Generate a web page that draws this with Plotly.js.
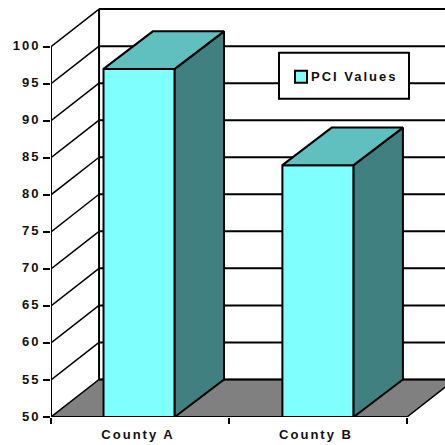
<!DOCTYPE html>
<html>
<head>
<meta charset="utf-8">
<script src="https://cdn.plot.ly/plotly-3.0.1.min.js"></script>
<style>
  html, body { margin: 0; padding: 0; background: #fff; }
  #chart { width: 445px; height: 445px; }
  /* Wide tracking on every chart label */
  #chart text { letter-spacing: 2px; }
</style>
</head>
<body>
<div id="chart"></div>
<script>
const categories = ['County A', 'County B'];
const pciValues = [97, 84];
const seriesName = 'PCI Values';
const yTicks = [50, 55, 60, 65, 70, 75, 80, 85, 90, 95, 100];
const xBoundaries = [0, 1, 2];

// Oblique depth of the box, in axis units
const depthX = 0.27;
const barDepthX = 0.277;
const depthY = 5.07;
const barWidth = 0.4;
const barCentres = [0.495, 1.5];

const yMin = 50, yMax = 106.3, xMax = 394 / 178;
const black = '#000';

const lineShape = (x0, y0, x1, y1, width) => ({
  type: 'line', layer: 'below', xref: 'x', yref: 'y',
  x0, y0, x1, y1, line: { color: black, width }
});

const backRight = 2 + depthX;
const floorPath =
  `M 0 ${yMin} L 2 ${yMin} L ${backRight} ${yMin + depthY} L ${depthX} ${yMin + depthY} Z`;

// Walls and floor sit below the bars
const shapes = [
  { type: 'path', layer: 'below', xref: 'x', yref: 'y', path: floorPath,
    fillcolor: '#808080', line: { color: black, width: 1.5 } },
  lineShape(0, yMin, 0, 100, 2),
  lineShape(depthX, yMin + depthY, depthX, 100 + depthY, 2)
];
yTicks.forEach(t => {
  shapes.push(lineShape(depthX, t + depthY, backRight, t + depthY, 2));
  if (t > yMin) shapes.push(lineShape(0, t, depthX, t + depthY, 1.5));
});

// Legend box, expressed in axis units of the plot
const pxX = p => (p - 51) / 178;
const pxY = p => 50 + (417 - p) / 7.4;
shapes.push(
  { type: 'rect', layer: 'above', xref: 'x', yref: 'y',
    x0: pxX(279), x1: pxX(409), y0: pxY(99), y1: pxY(53),
    fillcolor: '#fff', line: { color: black, width: 2 } },
  { type: 'rect', layer: 'above', xref: 'x', yref: 'y',
    x0: pxX(295), x1: pxX(307), y0: pxY(83), y1: pxY(71),
    fillcolor: '#80FFFF', line: { color: black, width: 2 } }
);

// Front faces are true bars; top and side faces follow the same values
const traces = [{
  type: 'bar', x: barCentres, y: pciValues, width: barWidth, name: seriesName,
  marker: { color: '#80FFFF', line: { color: black, width: 2 } },
  hoverinfo: 'skip', showlegend: false
}];

const face = (xs, ys, fill) => ({
  type: 'scatter', mode: 'lines', x: xs, y: ys, fill: 'toself', fillcolor: fill,
  line: { color: black, width: 2, shape: 'linear' }, cliponaxis: false,
  hoverinfo: 'skip', showlegend: false
});

pciValues.forEach((v, i) => {
  const l = barCentres[i] - barWidth / 2;
  const r = barCentres[i] + barWidth / 2;
  traces.push(face(
    [r, r + barDepthX, r + barDepthX, r, r],
    [yMin, yMin + depthY, v + depthY, v, yMin], '#408080'));
  traces.push(face(
    [l, r, r + barDepthX, l + barDepthX, l],
    [v, v, v + depthY, v + depthY, v], '#60C0C0'));
});

// Front base line over the bar bottoms
traces.push({
  type: 'scatter', mode: 'lines', x: [0, 2], y: [yMin, yMin],
  line: { color: black, width: 2 }, cliponaxis: false,
  hoverinfo: 'skip', showlegend: false
});

const labelFont = { family: 'Liberation Sans, Arial, sans-serif', size: 13, color: '#111', weight: 'bold' };

const layout = {
  width: 445, height: 445,
  margin: { l: 51, r: 0, t: 0, b: 28, pad: 0 },
  paper_bgcolor: '#fff', plot_bgcolor: '#fff',
  showlegend: false,
  xaxis: {
    range: [0, xMax], showgrid: false, zeroline: false, showline: false,
    tickmode: 'array', tickvals: [0.5, 1.5], ticktext: categories,
    ticks: '', tickfont: labelFont, tickangle: 0, ticklabelshift: -2, ticklabelstandoff: 8,
    minor: { tickmode: 'array', tickvals: xBoundaries, ticks: 'outside', ticklen: 6, tickwidth: 2, tickcolor: black, showgrid: false }
  },
  yaxis: {
    range: [yMin, yMax], showgrid: false, zeroline: false, showline: false,
    tickmode: 'array', tickvals: yTicks, ticktext: yTicks.map(String),
    ticks: 'outside', ticklen: 7, tickwidth: 2, tickcolor: black,
    tickfont: labelFont, ticklabelshift: -1, ticklabelstandoff: 0
  },
  shapes,
  annotations: [{
    xref: 'x', yref: 'y', x: pxX(319), y: pxY(77), xanchor: 'left', yanchor: 'middle',
    text: seriesName, showarrow: false, font: labelFont
  }]
};

Plotly.newPlot('chart', traces, layout, { displayModeBar: false, staticPlot: true });
</script>
</body>
</html>
